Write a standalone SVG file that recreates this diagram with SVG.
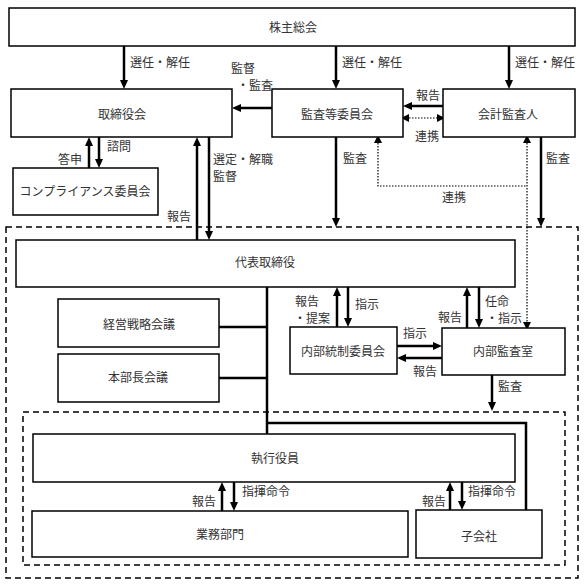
<svg xmlns="http://www.w3.org/2000/svg" width="585" height="585" viewBox="0 0 585 585">
<style>
.box{fill:#fff;stroke:#000;stroke-width:1.5}
.t{font-family:"Noto Sans CJK JP","Noto Sans",sans-serif;font-size:12px;fill:#333}
.c{text-anchor:middle}
.a{stroke:#000;stroke-width:2.5;fill:none;marker-end:url(#ah)}
.ln{stroke:#000;stroke-width:2.5;fill:none}
.dot{stroke:#000;stroke-width:1.2;stroke-dasharray:1.5 1.5;fill:none}
.dash{fill:none;stroke:#000;stroke-width:1.5;stroke-dasharray:6 4}
</style>
<defs>
<marker id="ah" markerUnits="userSpaceOnUse" viewBox="0 0 9 8" markerWidth="9" markerHeight="8" refX="4" refY="4" orient="auto"><path d="M0,0 L9,4 L0,8 z" fill="#000"/></marker>
<marker id="sh" markerUnits="userSpaceOnUse" viewBox="0 0 8 8" markerWidth="8" markerHeight="8" refX="3" refY="4" orient="auto-start-reverse"><path d="M0,0 L8,4 L0,8 z" fill="#000"/></marker>
</defs>
<rect class="dash" x="6" y="227" width="572" height="351"/>
<rect class="dash" x="23" y="412" width="542" height="153"/>
<g id="connectors">
<line class="a" x1="124" y1="46" x2="124" y2="84"/>
<line class="a" x1="336" y1="46" x2="336" y2="84"/>
<line class="a" x1="509" y1="46" x2="509" y2="84"/>
<line class="a" x1="272" y1="108" x2="237" y2="108"/>
<line class="a" x1="443" y1="106" x2="408" y2="106"/>
<line class="dot" x1="406" y1="118" x2="440" y2="118" marker-start="url(#sh)" marker-end="url(#sh)"/>
<line class="a" x1="89" y1="168" x2="89" y2="142"/>
<line class="a" x1="99" y1="137" x2="99" y2="163"/>
<line class="a" x1="197" y1="240" x2="197" y2="142"/>
<line class="a" x1="209" y1="137" x2="209" y2="235"/>
<line class="a" x1="336" y1="137" x2="336" y2="222"/>
<line class="a" x1="541" y1="137" x2="541" y2="222"/>
<path class="dot" d="M378,140 V186 H527" marker-start="url(#sh)"/>
<line class="dot" x1="527" y1="140" x2="527" y2="325" marker-start="url(#sh)" marker-end="url(#sh)"/>
<line class="a" x1="337" y1="327" x2="337" y2="292"/>
<line class="a" x1="348" y1="287" x2="348" y2="322"/>
<line class="a" x1="397" y1="346" x2="437" y2="346"/>
<line class="a" x1="442" y1="358" x2="402" y2="358"/>
<line class="a" x1="467" y1="328" x2="467" y2="292"/>
<line class="a" x1="479" y1="287" x2="479" y2="323"/>
<line class="a" x1="492" y1="375" x2="492" y2="406"/>
<line class="a" x1="222" y1="511" x2="222" y2="487"/>
<line class="a" x1="234" y1="482" x2="234" y2="506"/>
<line class="a" x1="450" y1="510" x2="450" y2="487"/>
<line class="a" x1="462" y1="482" x2="462" y2="505"/>
<line class="ln" x1="267" y1="287" x2="267" y2="434"/>
<path class="ln" d="M267,423 H526 V510"/>
<line class="ln" x1="219" y1="327" x2="267" y2="327"/>
<line class="ln" x1="219" y1="378" x2="267" y2="378"/>
</g>
<g id="n-kabunushi"><rect class="box" x="9" y="8" width="566" height="38"/><text class="t c" x="293" y="32">株主総会</text></g>
<g id="n-torishimariyakukai"><rect class="box" x="11" y="89" width="221" height="48"/><text class="t c" x="122" y="119">取締役会</text></g>
<g id="n-kansatou"><rect class="box" x="272" y="89" width="131" height="48"/><text class="t c" x="337" y="119">監査等委員会</text></g>
<g id="n-kaikei"><rect class="box" x="443" y="89" width="132" height="48"/><text class="t c" x="508" y="119">会計監査人</text></g>
<g id="n-compliance"><rect class="box" x="13" y="168" width="145" height="47"/><text class="t c" x="85" y="196">コンプライアンス委員会</text></g>
<g id="n-daihyo"><rect class="box" x="16" y="240" width="499" height="47"/><text class="t c" x="265" y="267">代表取締役</text></g>
<g id="n-keiei"><rect class="box" x="58" y="299" width="161" height="48"/><text class="t c" x="139" y="329">経営戦略会議</text></g>
<g id="n-honbucho"><rect class="box" x="58" y="354" width="161" height="48"/><text class="t c" x="138" y="382">本部長会議</text></g>
<g id="n-naibutousei"><rect class="box" x="290" y="327" width="107" height="47"/><text class="t c" x="343" y="356">内部統制委員会</text></g>
<g id="n-naibukansa"><rect class="box" x="442" y="328" width="123" height="47"/><text class="t c" x="503" y="356">内部監査室</text></g>
<g id="n-shikkou"><rect class="box" x="33" y="434" width="482" height="48"/><text class="t c" x="275" y="463">執行役員</text></g>
<g id="n-gyomu"><rect class="box" x="32" y="511" width="376" height="46"/><text class="t c" x="220" y="539">業務部門</text></g>
<g id="n-kogaisha"><rect class="box" x="416" y="510" width="126" height="48"/><text class="t c" x="479" y="541">子会社</text></g>
<g id="labels">
<text class="t" x="130" y="67">選任・解任</text>
<text class="t" x="342" y="67">選任・解任</text>
<text class="t" x="515" y="67">選任・解任</text>
<text class="t" x="231" y="73">監督</text>
<text class="t" x="237" y="90">・監査</text>
<text class="t" x="213" y="164">選定・解職</text>
<text class="t" x="213" y="181">監督</text>
<text class="t" x="416" y="100">報告</text>
<text class="t" x="415" y="141">連携</text>
<text class="t" x="58" y="164">答申</text>
<text class="t" x="107" y="151">諮問</text>
<text class="t" x="167" y="221">報告</text>
<text class="t" x="343" y="163">監査</text>
<text class="t" x="442" y="202">連携</text>
<text class="t" x="546" y="163">監査</text>
<text class="t" x="295" y="306">報告</text>
<text class="t" x="294" y="323">・提案</text>
<text class="t" x="355" y="309">指示</text>
<text class="t" x="403" y="338">指示</text>
<text class="t" x="413" y="376">報告</text>
<text class="t" x="438" y="322">報告</text>
<text class="t" x="485" y="306">任命</text>
<text class="t" x="486" y="323">・指示</text>
<text class="t" x="498" y="391">監査</text>
<text class="t" x="242" y="496">指揮命令</text>
<text class="t" x="192" y="506">報告</text>
<text class="t" x="468" y="496">指揮命令</text>
<text class="t" x="422" y="506">報告</text>
</g>
</svg>
